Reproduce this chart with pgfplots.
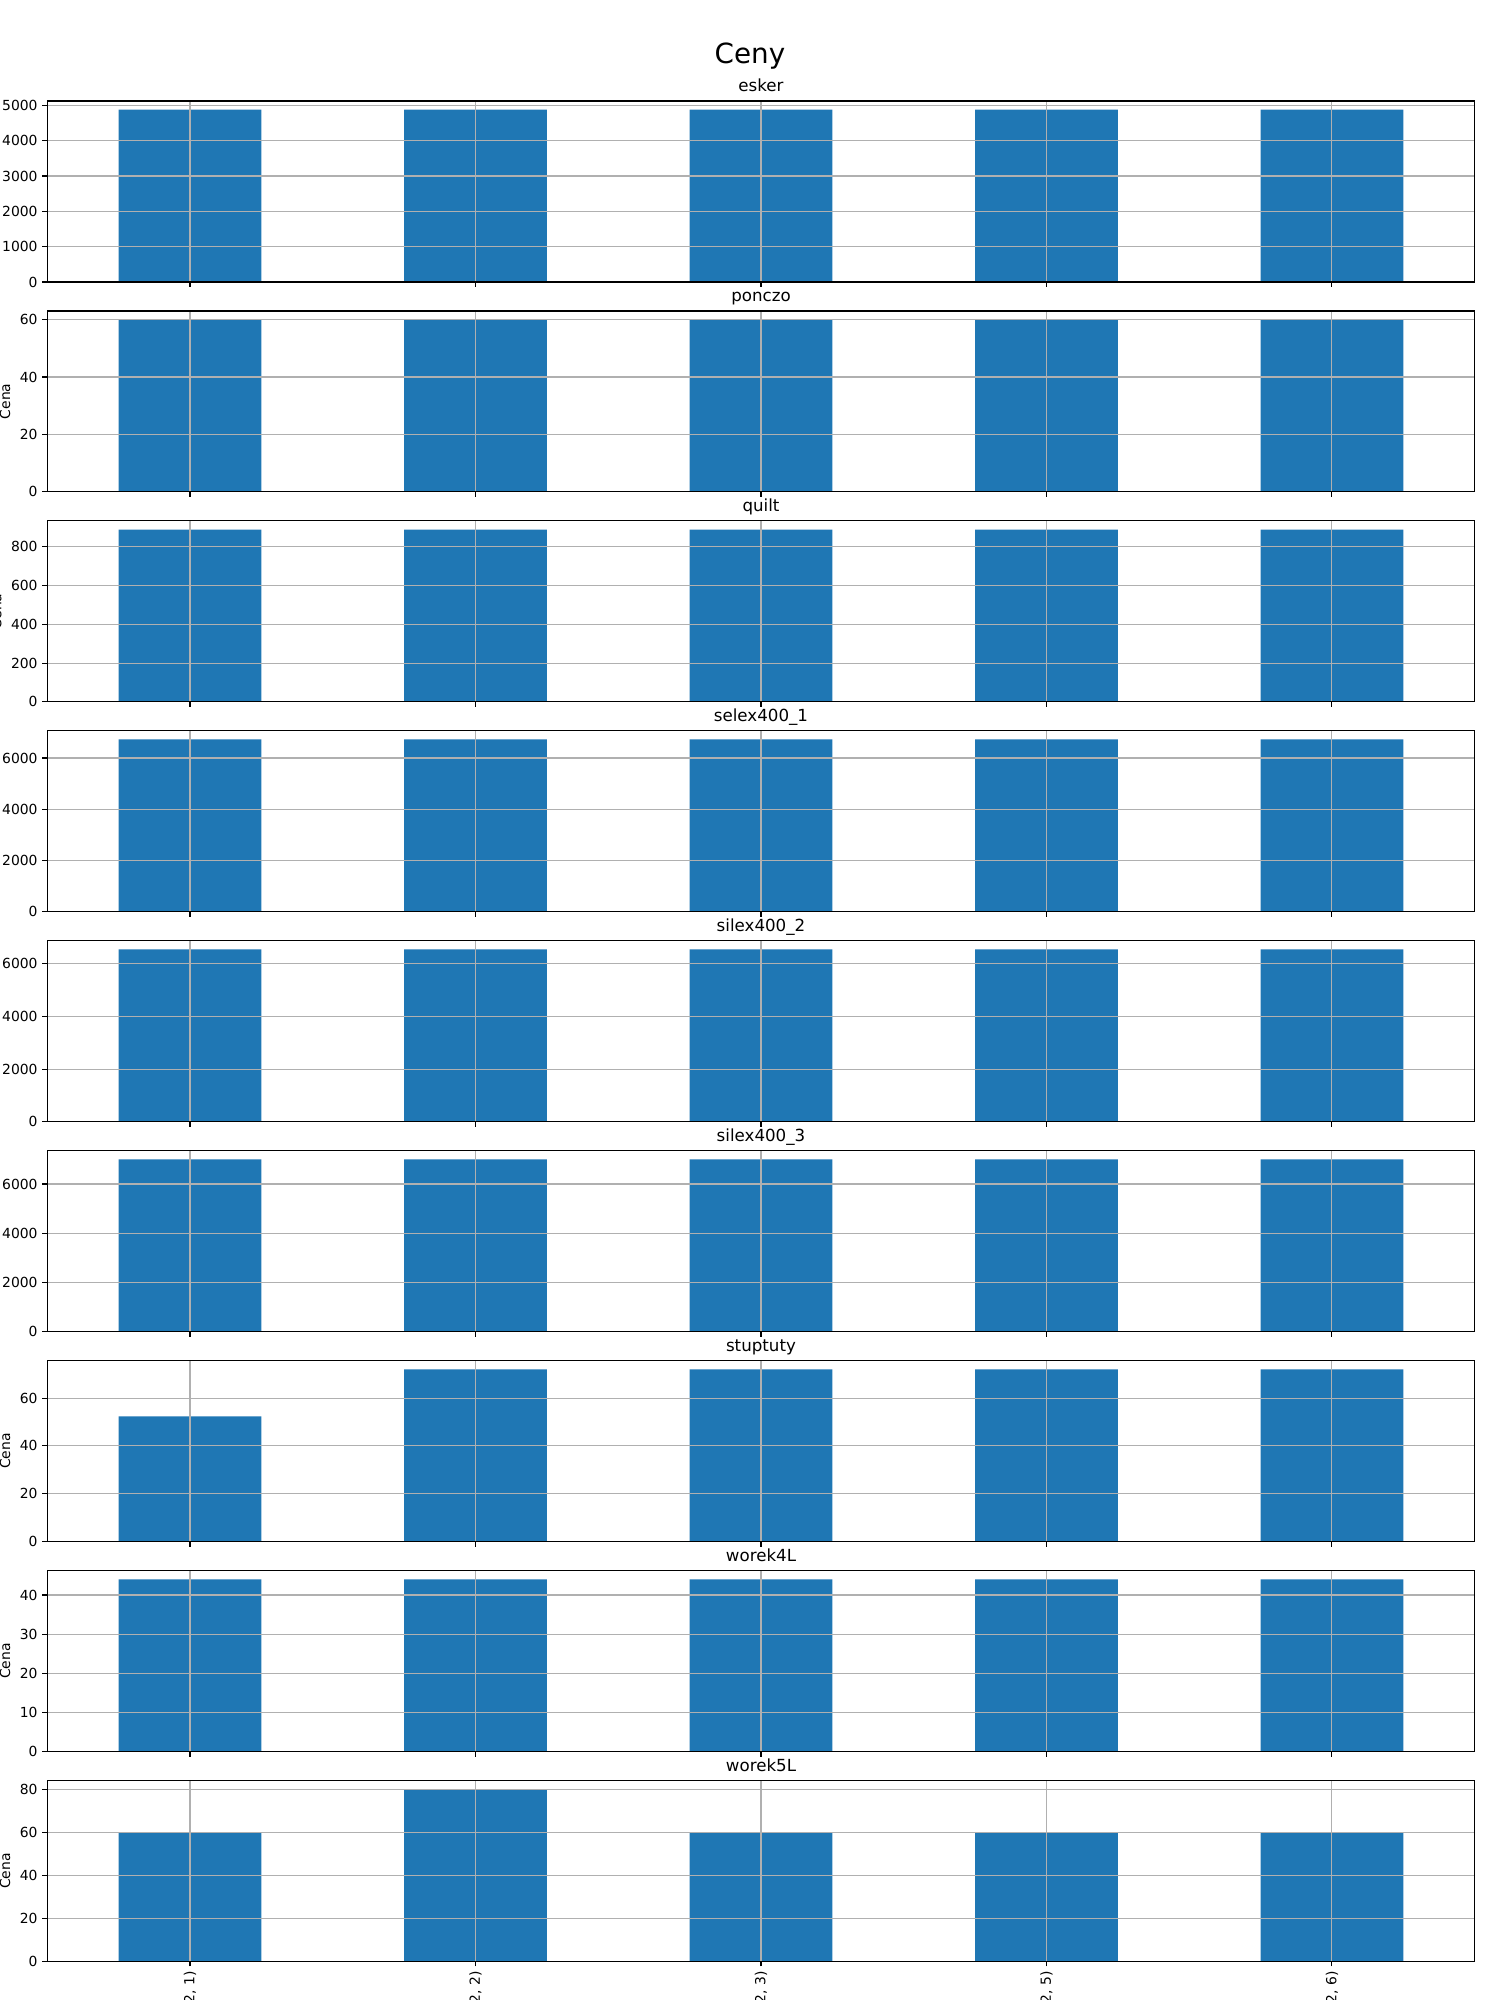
\documentclass[border=0pt]{standalone}
\usepackage{pgfplots}
\pgfplotsset{compat=1.18}
\usepackage{fontspec}
\setmainfont{DejaVu Sans}
\definecolor{mplblue}{RGB}{31,119,180}
\definecolor{gridgray}{RGB}{176,176,176}
\pgfplotsset{
  panel/.style={
    scale only axis,
    width=1027.7pt, height=130.3pt,
    anchor=south west,
    xmin=-0.5, xmax=4.5, ymin=0,
    xtick={0,1,2,3,4},
    xticklabels={},
    ybar, bar width=0.5, bar shift=0pt,
    axis on top,
    grid=major,
    major grid style={color=gridgray, line width=0.8pt},
    axis line style={black, line width=0.8pt},
    tick pos=left, tick align=outside,
    major tick length=3.5pt,
    tick style={black, line width=0.8pt},
    ticklabel style={font=\fontsize{10}{12}\selectfont},
    /pgf/number format/assume math mode=true,
    /pgf/number format/1000 sep={},
    scaled y ticks=false,
    title style={font=\fontsize{12}{14}\selectfont},
    every axis title shift=0pt,
    title style={at={(0.5,1)}, anchor=base, yshift=6.7pt},
    ylabel={Cena},
    ylabel style={font=\fontsize{10}{12}\selectfont},
  },
  barplot/.style={fill=mplblue, draw=none},
}
\begin{document}
\begin{tikzpicture}
\path[use as bounding box] (0,0) rectangle (1080pt,1440pt);
\node[font=\fontsize{20}{24}\selectfont, anchor=base] at (540pt,1394.4pt) {Ceny};

\begin{axis}[panel, at={(34.06pt,1236.96pt)}, title={esker}, ymax=5124, ytick={0,1000,2000,3000,4000,5000}]
\addplot[barplot] coordinates {(0,4880) (1,4880) (2,4880) (3,4880) (4,4880)};
\end{axis}

\begin{axis}[panel, at={(34.06pt,1085.80pt)}, title={ponczo}, ymax=63, ytick={0,20,40,60}]
\addplot[barplot] coordinates {(0,60) (1,60) (2,60) (3,60) (4,60)};
\end{axis}

\begin{axis}[panel, at={(34.06pt,934.63pt)}, title={quilt}, ymax=933.45, ytick={0,200,400,600,800}]
\addplot[barplot] coordinates {(0,889) (1,889) (2,889) (3,889) (4,889)};
\end{axis}

\begin{axis}[panel, at={(34.06pt,783.47pt)}, title={selex400\_1}, ymax=7056, ytick={0,2000,4000,6000}]
\addplot[barplot] coordinates {(0,6720) (1,6720) (2,6720) (3,6720) (4,6720)};
\end{axis}

\begin{axis}[panel, at={(34.06pt,632.30pt)}, title={silex400\_2}, ymax=6867, ytick={0,2000,4000,6000}]
\addplot[barplot] coordinates {(0,6540) (1,6540) (2,6540) (3,6540) (4,6540)};
\end{axis}

\begin{axis}[panel, at={(34.06pt,481.14pt)}, title={silex400\_3}, ymax=7350, ytick={0,2000,4000,6000}]
\addplot[barplot] coordinates {(0,7000) (1,7000) (2,7000) (3,7000) (4,7000)};
\end{axis}

\begin{axis}[panel, at={(34.06pt,329.98pt)}, title={stuptuty}, ymax=75.6, ytick={0,20,40,60}]
\addplot[barplot] coordinates {(0,52.3) (1,72) (2,72) (3,72) (4,72)};
\end{axis}

\begin{axis}[panel, at={(34.06pt,178.81pt)}, title={worek4L}, ymax=46.2, ytick={0,10,20,30,40}]
\addplot[barplot] coordinates {(0,44) (1,44) (2,44) (3,44) (4,44)};
\end{axis}

\begin{axis}[panel, at={(34.06pt,27.65pt)}, title={worek5L}, ymax=84, ytick={0,20,40,60,80},
  xticklabels={{(2024, 2, 1)},{(2024, 2, 2)},{(2024, 2, 3)},{(2024, 2, 5)},{(2024, 2, 6)}},
  xticklabel style={rotate=90, anchor=east}]
\addplot[barplot] coordinates {(0,60) (1,80) (2,60) (3,60) (4,60)};
\end{axis}
\end{tikzpicture}
\end{document}
